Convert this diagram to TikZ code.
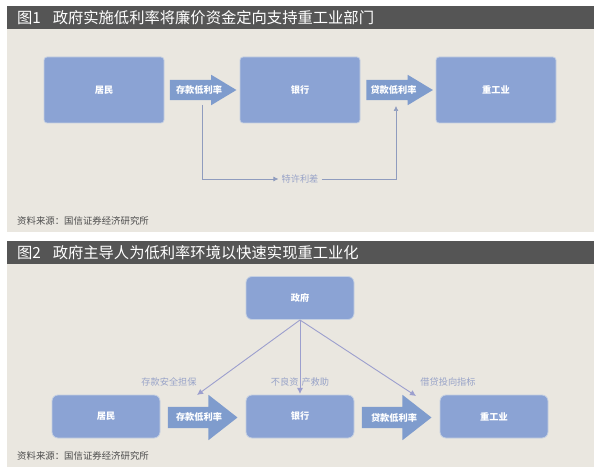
\documentclass[tikz,border=0pt]{standalone}
\usepackage{fontspec}
\setmainfont{Noto Sans CJK SC}
\usetikzlibrary{shapes.arrows,arrows.meta}
\definecolor{panelbg}{HTML}{EAE7E0}
\definecolor{barbg}{HTML}{555555}
\definecolor{boxblue}{HTML}{8BA3D4}
\definecolor{boxedge}{HTML}{C5D0E2}
\definecolor{arrowblue}{HTML}{7F9CCD}
\definecolor{lineone}{HTML}{8F9CBE}
\definecolor{linetwo}{HTML}{9C9FCE}
\definecolor{notegray}{HTML}{98A3C8}
\tikzset{
  bartitle/.style={fill=barbg,text=white,minimum width=587pt,minimum height=23pt,inner sep=0pt,inner xsep=10pt,text width=567pt,align=left,font=\fontsize{15.3}{16}\selectfont},
  panel/.style={fill=panelbg,minimum width=587pt,minimum height=203pt,inner sep=0pt},
  flowbox/.style={fill=boxblue,draw=boxedge,line width=0.8pt,rounded corners=3pt,inner sep=0pt,text=white,font=\fontsize{9.2}{10}\selectfont\bfseries},
  rateflow/.style={shape=single arrow,fill=arrowblue,text height=7pt,text depth=2pt},
  rateone/.style={rateflow,inner xsep=24.65pt,inner ysep=5.5pt,single arrow head extend=5pt,single arrow tip angle=62,minimum height=66pt},
  ratetwo/.style={rateflow,inner xsep=27.8pt,inner ysep=6pt,single arrow head extend=12pt,single arrow tip angle=76,minimum height=69pt},
  rateword/.style={text=white,inner sep=0pt,font=\fontsize{9.2}{10}\selectfont\bfseries},
  source/.style={text=black!70,font=\fontsize{9.4}{10}\selectfont,inner sep=0pt},
  note/.style={text=notegray,font=\fontsize{9.2}{10}\selectfont,inner sep=0pt},
  linkone/.style={draw=lineone,line width=0.7pt,-{Latex[length=5pt,width=5pt]}},
  linktwo/.style={draw=linetwo,line width=0.9pt,-{Latex[length=6pt,width=6pt]}},
}
\begin{document}
\begin{tikzpicture}[x=1pt,y=-1pt]
\useasboundingbox (0,0) rectangle (600,470);
\fill[white] (0,0) rectangle (600,470);
%figure 1 ground
\node[panel] (panelone) at (300.5,130.5) {};
\node[bartitle] (barone) at (300.5,17.5) {图1\hspace{12pt}政府实施低利率将廉价资金定向支持重工业部门};
\node[source,anchor=west] (sourceone) at (17,221) {资料来源：国信证券经济研究所};
%figure 1 boxes
\node[flowbox,minimum width=120pt,minimum height=66pt] (homeone) at (104,90) {居民};
\node[flowbox,minimum width=120pt,minimum height=66pt] (bankone) at (300,90) {银行};
\node[flowbox,minimum width=120pt,minimum height=66pt] (heavyone) at (496,90) {重工业};
%figure 1 rate arrows
\node[rateone] (depositone) at (194.65,90) {};
\node[rateone] (loanone) at (391.15,90) {};
\node[rateword] (depositwordone) at (199,90) {存款低利率};
\node[rateword] (loanwordone) at (393.5,90) {贷款低利率};
%figure 1 spread
\coordinate (outone) at (202,105);
\coordinate (inone) at (396,106);
\node[note,inner xsep=3pt] (spreadone) at (300,179) {特许利差};
\draw[linkone] (outone)--(202,179)--(spreadone.west);
\draw[linkone] (spreadone.east)--(396,179)--(inone);
%figure 2 ground
\node[panel] (paneltwo) at (300.5,365.5) {};
\node[bartitle] (bartwo) at (300.5,252.5) {图2\hspace{12pt}政府主导人为低利率环境以快速实现重工业化};
\node[source,anchor=west] (sourcetwo) at (17,456) {资料来源：国信证券经济研究所};
%figure 2 boxes
\node[flowbox,rounded corners=6pt,minimum width=108pt,minimum height=43pt] (gov) at (300,298) {政府};
\node[flowbox,rounded corners=6pt,minimum width=108pt,minimum height=43pt] (hometwo) at (106,416.5) {居民};
\node[flowbox,rounded corners=6pt,minimum width=108pt,minimum height=43pt] (banktwo) at (300,416.5) {银行};
\node[flowbox,rounded corners=6pt,minimum width=108pt,minimum height=43pt] (heavytwo) at (494,416.5) {重工业};
%figure 2 rate arrows
\node[ratetwo] (deposittwo) at (195.8,417.5) {};
\node[ratetwo] (loantwo) at (389.8,417.5) {};
\node[rateword] (depositwordtwo) at (199,417.5) {存款低利率};
\node[rateword] (loanwordtwo) at (394,417.5) {贷款低利率};
%figure 2 links
\coordinate (govfoot) at (300,320);
\coordinate (depositend) at (197,395);
\coordinate (bankend) at (300,394);
\coordinate (loanend) at (416,396);
\node[note] (guarantee) at (169,382) {存款安全担保};
\node[note] (bailout) at (300,382) {不良资\hspace{3pt}产救助};
\node[note] (quota) at (448,382) {借贷投向指标};
\draw[linktwo] (govfoot)--(depositend);
\draw[linktwo] (govfoot)--(bankend);
\draw[linktwo] (govfoot)--(loanend);
\end{tikzpicture}
\end{document}
